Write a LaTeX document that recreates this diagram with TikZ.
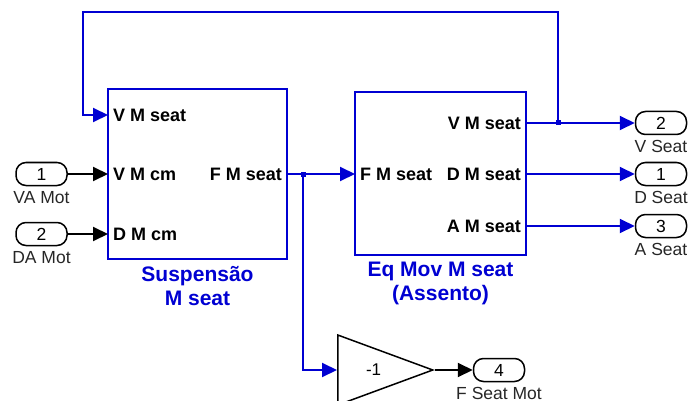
\documentclass[tikz,border=0pt]{standalone}
\usepackage{fontspec}
\setmainfont{Liberation Sans}
\usetikzlibrary{arrows.meta,positioning,calc,shapes.geometric}
\definecolor{slblue}{RGB}{0,0,210}
\tikzset{
  blk/.style={draw=slblue, line width=2pt, inner sep=0pt},
  plab/.style={font=\bfseries\fontsize{18}{18}\selectfont, text=black, inner xsep=5pt, inner ysep=0pt},
  ttl/.style={font=\bfseries\fontsize{21}{24}\selectfont, text=slblue, align=center, inner sep=2pt},
  port/.style={draw, rounded corners=10pt, line width=1.5pt, minimum width=51pt, minimum height=23pt,
      inner sep=0pt, font=\fontsize{17.5}{17.5}\selectfont},
  plbl/.style={font=\fontsize{17.5}{17.5}\selectfont, text=black!85, inner sep=1pt},
  bsig/.style={slblue, line width=2pt, -{Triangle[length=15pt,width=14pt]}},
  ksig/.style={black, line width=2pt, -{Triangle[length=15pt,width=14pt]}},
  jn/.style={rectangle, fill=slblue, inner sep=0pt, minimum size=5pt},
  gainb/.style={draw, isosceles triangle, isosceles triangle stretches, line width=1.5pt,
      minimum width=70pt, minimum height=95pt, inner sep=0pt, font=\fontsize{17}{17}\selectfont},
}
\begin{document}
\begin{tikzpicture}[x=1pt,y=-1pt]
\useasboundingbox (0,0) rectangle (688,401);
% blocks
\node[blk, minimum width=179pt, minimum height=170pt] (susp) at (197.5,174) {};
\node[blk, minimum width=171pt, minimum height=163pt] (eqm) at (440.5,173.5) {};
\node[ttl, below=4pt of susp] (tsusp) {Suspensão\\ M seat};
\node[ttl, below=4pt of eqm] (teqm) {Eq Mov M seat\\(Assento)};
% block ports
\coordinate (sVs) at (108,115);
\coordinate (sVc) at (108,174);
\coordinate (sDc) at (108,234);
\coordinate (sF) at (287,174);
\coordinate (eF) at (355,174);
\coordinate (eV) at (526,123);
\coordinate (eD) at (526,174);
\coordinate (eA) at (526,226);
\node[plab, anchor=west] (lsVs) at (sVs) {V M seat};
\node[plab, anchor=west] (lsVc) at (sVc) {V M cm};
\node[plab, anchor=west] (lsDc) at (sDc) {D M cm};
\node[plab, anchor=east] (lsF) at (sF) {F M seat};
\node[plab, anchor=west] (leF) at (eF) {F M seat};
\node[plab, anchor=east] (leV) at (eV) {V M seat};
\node[plab, anchor=east] (leD) at (eD) {D M seat};
\node[plab, anchor=east] (leA) at (eA) {A M seat};
% inports / outports
\node[port] (in1) at (41.5,174) {1};
\node[plbl, below=4pt of in1] (lin1) {VA Mot};
\node[port] (in2) at (41.5,234) {2};
\node[plbl, below=4pt of in2] (lin2) {DA Mot};
\node[port] (out2) at (661,123) {2};
\node[plbl, below=4pt of out2] (lout2) {V Seat};
\node[port] (out1) at (661,174) {1};
\node[plbl, below=4pt of out1] (lout1) {D Seat};
\node[port] (out3) at (661,226) {3};
\node[plbl, below=4pt of out3] (lout3) {A Seat};
\node[port] (out4) at (499,370) {4};
\node[plbl, below=4pt of out4] (lout4) {F Seat Mot};
% gain
\node[gainb, anchor=lower side] (gain) at (337,370) {\hspace*{16pt}-1};
% junctions
\node[jn] (jF) at (303,174) {};
\node[jn] (jV) at (558,123) {};
\coordinate (tl) at (83,12);
% signals
\draw[ksig] (in1) -- (sVc);
\draw[ksig] (in2) -- (sDc);
\draw[bsig] (sF) -- (eF);
\draw[bsig] (jF.center) |- (gain.lower side);
\draw[ksig] (gain.apex) -- (out4);
\draw[bsig] (eV) -- (out2);
\draw[bsig] (eD) -- (out1);
\draw[bsig] (eA) -- (out3);
\draw[bsig] (jV.center) |- (tl) |- (sVs);
\end{tikzpicture}
\end{document}
